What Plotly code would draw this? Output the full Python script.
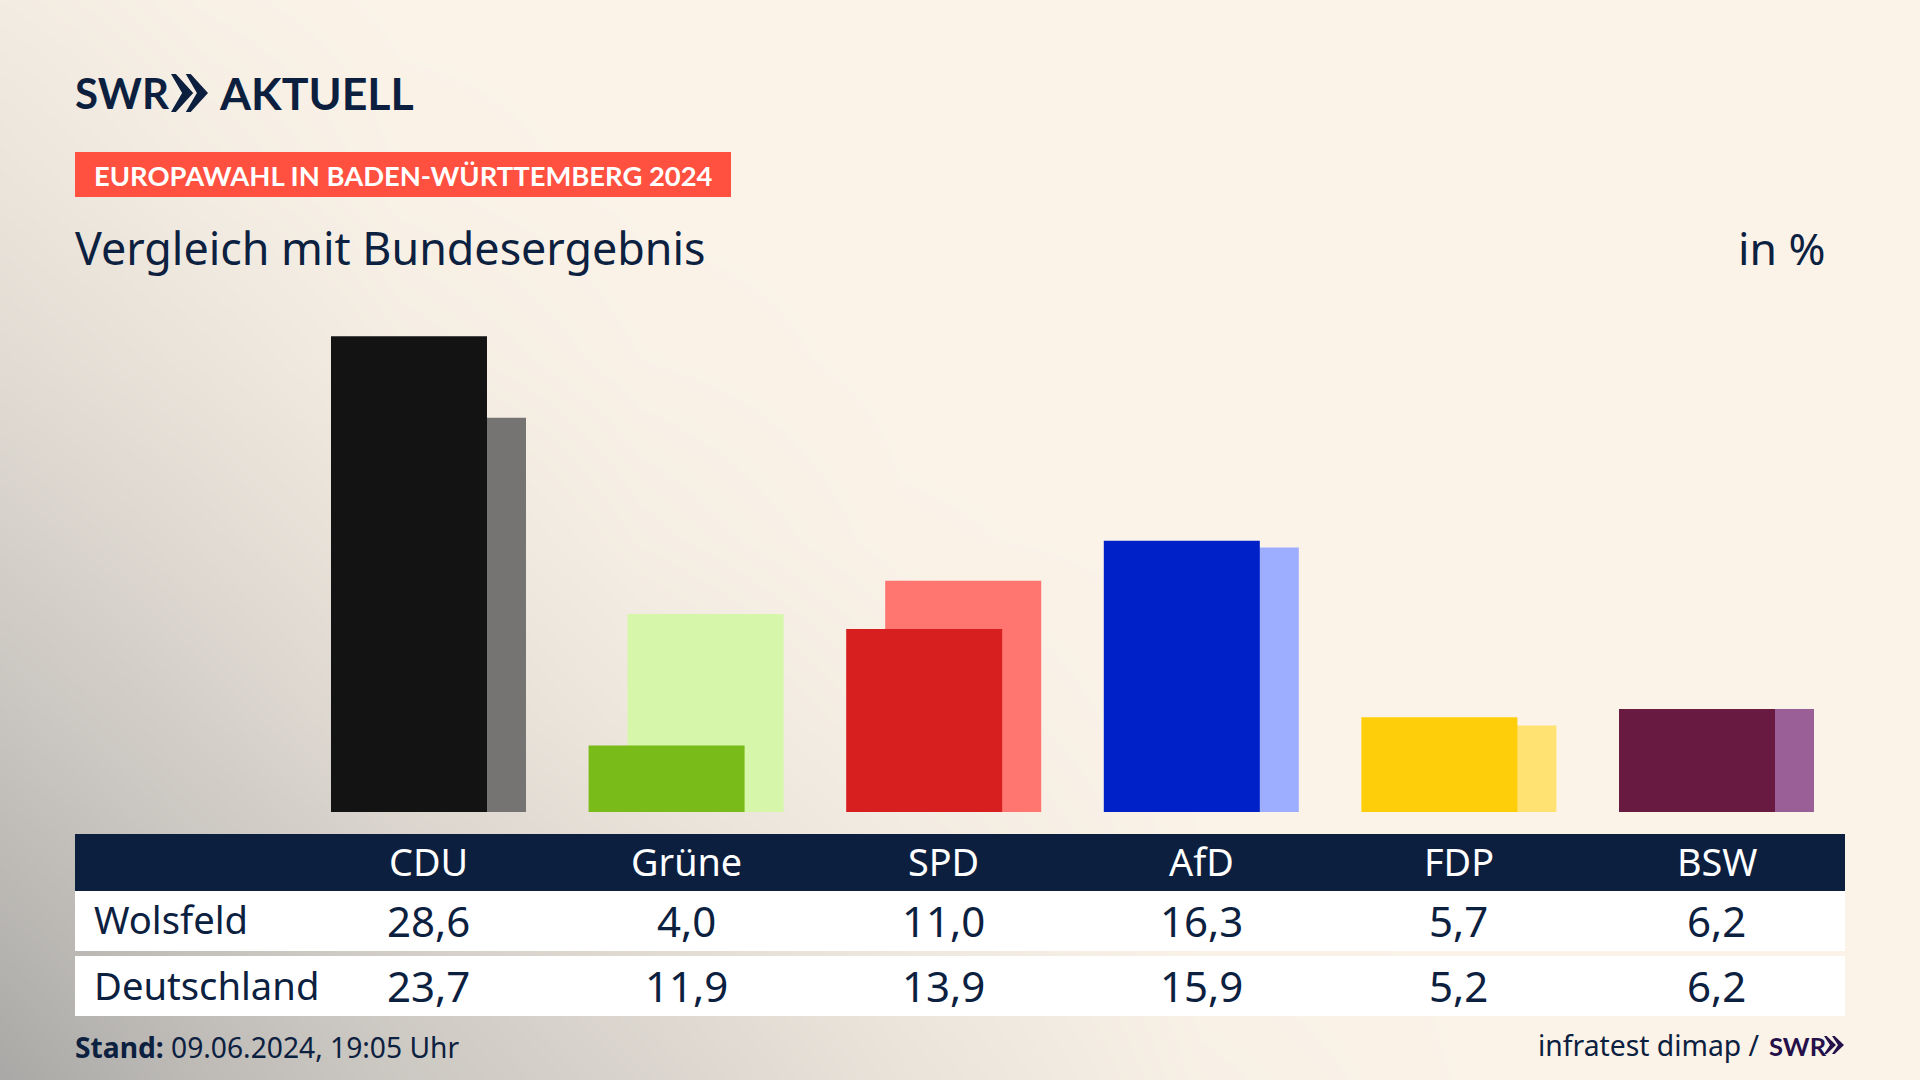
import plotly.graph_objects as go

# ---- data ----
parties = ["CDU", "Grüne", "SPD", "AfD", "FDP", "BSW"]
wolsfeld = [28.6, 4.0, 11.0, 16.3, 5.7, 6.2]
deutschland = [23.7, 11.9, 13.9, 15.9, 5.2, 6.2]
row_labels = ["Wolsfeld", "Deutschland"]
front_colors = ["#131313", "#79BC19", "#D81F1F", "#0021C8", "#FFCE0B", "#691A40"]
back_colors = ["#757472", "#D6F7A9", "#FF7570", "#9DADFF", "#FFE271", "#9A5F97"]

bg_x = [0, 200, 400, 640, 900, 1200, 1500, 1920]
bg_y = [0, 180, 360, 540, 720, 900, 1080]
bg_z = [
    [0.10, 0.03, 0, 0, 0, 0, 0, 0],
    [0.20, 0.09, 0.02, 0, 0, 0, 0, 0],
    [0.32, 0.20, 0.08, 0.02, 0, 0, 0, 0],
    [0.47, 0.33, 0.19, 0.07, 0.01, 0, 0, 0],
    [0.63, 0.47, 0.31, 0.16, 0.06, 0, 0, 0],
    [0.80, 0.63, 0.47, 0.30, 0.13, 0.01, 0, 0],
    [1.00, 0.75, 0.58, 0.42, 0.22, 0.04, 0, 0],
]

INK = "#0C2040"
NAVY = "#0C1F3F"
FONT = "Noto Sans"

fig = go.Figure()
fig.add_trace(go.Heatmap(
    x=bg_x, y=bg_y, z=bg_z, zsmooth="best", zmin=0, zmax=1, showscale=False, hoverinfo="skip",
    colorscale=[[0, "#FBF3E8"], [1, "#A9A8A6"]], xaxis="x", yaxis="y"))

BAR_W = 0.6056
fig.add_trace(go.Bar(x=parties, y=deutschland, name="Deutschland", marker=dict(color=back_colors, line_width=0),
                     width=BAR_W, offset=-0.2271, xaxis="x2", yaxis="y2", hoverinfo="skip"))
fig.add_trace(go.Bar(x=parties, y=wolsfeld, name="Wolsfeld", marker=dict(color=front_colors, line_width=0),
                     width=BAR_W, offset=-0.3785, xaxis="x2", yaxis="y2", hoverinfo="skip"))


def rect(x0, y0, x1, y1, color):
    return dict(type="rect", xref="x", yref="y", x0=x0, y0=y0, x1=x1, y1=y1,
                fillcolor=color, line_width=0, layer="above")


def chevrons(x0, y0, x1, y1, color):
    w = (x1 - x0)
    s = w * 0.60   # single chevron width
    t = w * 0.30   # stroke thickness
    ym = (y0 + y1) / 2
    out = []
    for off in (0, w - s):
        a = x0 + off
        p = f"M{a + 0.22 * s},{y0} L{a + s},{ym} L{a + 0.22 * s},{y1} L{a},{y1} L{a + s - t},{ym} L{a},{y0} Z"
        out.append(dict(type="path", xref="x", yref="y", path=p, fillcolor=color, line_width=0, layer="above"))
    return out


shapes = [
    rect(75, 152, 731, 197, "#FF5040"),
    rect(75, 834, 1845, 891, NAVY),
    rect(75, 891, 1845, 951, "#FFFFFF"),
    rect(75, 956, 1845, 1016, "#FFFFFF"),
]
shapes += chevrons(171, 74, 208, 112, NAVY)
shapes += chevrons(1824, 1036, 1844, 1054, "#25104A")


def txt(x, y, s, size, color=INK, anchor="left", xref="x", family=FONT):
    return dict(x=x, y=y, text=s, xref=xref, yref="y", showarrow=False, xanchor=anchor, yanchor="middle",
                font=dict(family=family, size=size, color=color), borderpad=0, borderwidth=0)


def fmt(v):
    return f"{v:.1f}".replace(".", ",")


ann = [
    txt(75, 93, "<b>SWR</b>", 42, NAVY, family="Lato"),
    txt(219, 93, "<b>AKTUELL</b>", 44.7, NAVY, family="Lato"),
    txt(94, 175, "<b>EUROPAWAHL IN BADEN-WÜRTTEMBERG 2024</b>", 27.4, "#FFFFFF", family="Lato"),
    txt(75, 247, "Vergleich mit Bundesergebnis", 44.8),
    txt(1826, 247, "in %", 44.5, anchor="right"),
    txt(94, 919, row_labels[0], 38.2),
    txt(94, 985, row_labels[1], 38.2),
    txt(75, 1047, "<b>Stand:</b> 09.06.2024, 19:05 Uhr", 28.2),
    txt(1760, 1045, "infratest dimap /", 28.3, anchor="right"),
    txt(1769, 1046, "<b>SWR</b>", 25.5, "#25104A", family="Lato"),
]
for p, a, b in zip(parties, wolsfeld, deutschland):
    ann.append(txt(p, 861, p, 37.8, "#FFFFFF", "center", "x2"))
    ann.append(txt(p, 920, fmt(a), 42, INK, "center", "x2"))
    ann.append(txt(p, 985, fmt(b), 42, INK, "center", "x2"))

hidden = dict(visible=False, showgrid=False, zeroline=False, fixedrange=True)
fig.update_layout(
    width=1920, height=1080, margin=dict(l=0, r=0, t=0, b=0, pad=0, autoexpand=False),
    paper_bgcolor="#FBF3E8", plot_bgcolor="rgba(0,0,0,0)",
    showlegend=False, barmode="overlay",
    xaxis=dict(range=[0, 1920], domain=[0, 1], **hidden),
    yaxis=dict(range=[1080, 0], domain=[0, 1], **hidden),
    xaxis2=dict(type="category", categoryorder="array", categoryarray=parties,
                range=[-1.6634, 5.7900], domain=[0, 1], anchor="y2", **hidden),
    yaxis2=dict(range=[-16.1, 48.8], domain=[0, 1], anchor="x2", **hidden),
    shapes=shapes, annotations=ann,
)

fig.write_html("out.html", config=dict(displayModeBar=False),
               post_script="document.body.style.margin='0';document.body.style.overflow='hidden';")
